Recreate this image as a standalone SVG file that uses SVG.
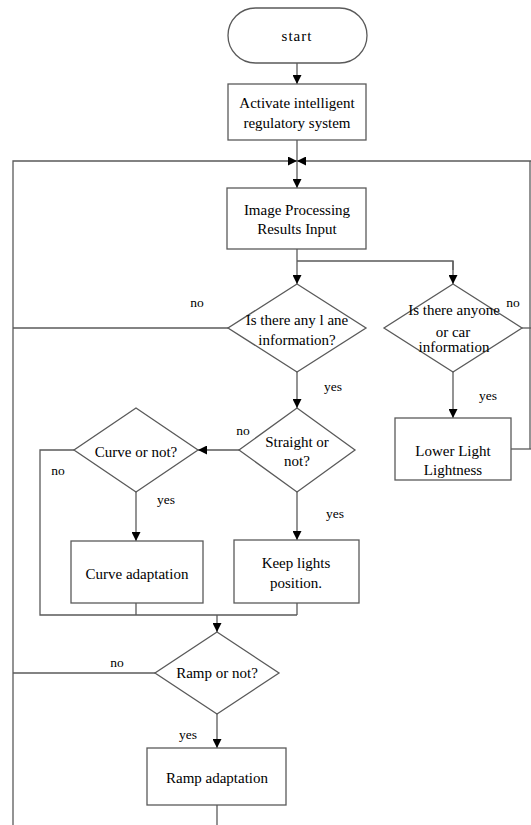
<svg xmlns="http://www.w3.org/2000/svg" width="531" height="825" viewBox="0 0 531 825">
<defs>
<marker id="ah" viewBox="0 0 10 10" refX="10" refY="5" markerWidth="10" markerHeight="9" markerUnits="userSpaceOnUse" orient="auto">
<path d="M0,0 L10,5 L0,10 Z" fill="#000"/>
</marker>
<style>
.s{fill:#fff;stroke:#5a5a5a;stroke-width:1.3}
.c{fill:none;stroke:#5a5a5a;stroke-width:1.3}
.a{fill:none;stroke:#5a5a5a;stroke-width:1.3;marker-end:url(#ah)}
text{font-family:'Liberation Serif','DejaVu Serif',serif;font-size:15px;fill:#000;text-anchor:middle}
.l{font-size:13.5px}
</style>
</defs>
<rect width="531" height="825" fill="#fff"/>
<g id="connectors" font-family="Liberation Serif, DejaVu Serif, serif">
<line class="a" x1="297" y1="63" x2="297" y2="84"/>
<line class="c" x1="297" y1="140" x2="297" y2="161"/>
<polyline class="a" points="13,825 13,161 297,161"/>
<polyline class="a" points="531,161 297,161"/>
<line class="c" x1="530" y1="161" x2="530" y2="449"/>
<line class="a" x1="297" y1="161" x2="297" y2="188"/>
<line class="c" x1="297" y1="249" x2="297" y2="261"/>
<polyline class="c" points="297,261 453,261 453,270"/>
<line class="a" x1="297" y1="261" x2="297" y2="284"/>
<line class="a" x1="453" y1="261" x2="453" y2="284"/>
<line class="c" x1="228" y1="328" x2="13" y2="328"/>
<line class="c" x1="522" y1="328" x2="531" y2="328"/>
<line class="a" x1="453" y1="372" x2="453" y2="418"/>
<line class="c" x1="511" y1="449" x2="531" y2="449"/>
<line class="a" x1="297" y1="372" x2="297" y2="408"/>
<line class="a" x1="239" y1="450" x2="198" y2="450"/>
<polyline class="c" points="74,450 40,450 40,615 297,615"/>
<line class="a" x1="136" y1="492" x2="136" y2="541"/>
<line class="a" x1="297" y1="492" x2="297" y2="540"/>
<line class="c" x1="136" y1="603" x2="136" y2="615"/>
<line class="c" x1="297" y1="603" x2="297" y2="615"/>
<line class="a" x1="217" y1="615" x2="217" y2="632"/>
<line class="c" x1="155" y1="673" x2="13" y2="673"/>
<line class="a" x1="217" y1="714" x2="217" y2="748"/>
<line class="c" x1="217" y1="805" x2="217" y2="825"/>
<text class="l" x="197" y="307">no</text>
<text class="l" x="513" y="307">no</text>
<text class="l" x="333" y="391">yes</text>
<text class="l" x="488" y="400">yes</text>
<text class="l" x="243" y="435">no</text>
<text class="l" x="58" y="475">no</text>
<text class="l" x="166" y="504">yes</text>
<text class="l" x="335" y="518">yes</text>
<text class="l" x="117" y="667">no</text>
<text class="l" x="188" y="739">yes</text>
</g>
<g id="start">
<rect class="s" x="228" y="8" width="139" height="55" rx="27.5"/>
<text x="297" y="41" letter-spacing="1">start</text>
</g>
<g id="activate">
<rect class="s" x="228" y="84" width="138" height="56"/>
<text x="297" y="108">Activate intelligent</text>
<text x="297" y="128">regulatory system</text>
</g>
<g id="image-processing">
<rect class="s" x="227" y="188" width="139" height="61"/>
<text x="297" y="215">Image Processing</text>
<text x="297" y="234">Results Input</text>
</g>
<g id="lane">
<polygon class="s" points="297,284 366,328 297,372 228,328"/>
<text x="297" y="325">Is there any l ane</text>
<text x="297" y="345">information?</text>
</g>
<g id="anyone">
<polygon class="s" points="453,284 522,328 453,372 384,328"/>
<text x="454" y="315">Is there anyone</text>
<text x="453" y="337">or car</text>
<text x="454" y="352">information</text>
</g>
<g id="lower-light">
<rect class="s" x="395" y="418" width="116" height="62"/>
<text x="453" y="456">Lower Light</text>
<text x="453" y="475">Lightness</text>
</g>
<g id="straight">
<polygon class="s" points="297,408 355,450 297,492 239,450"/>
<text x="297" y="447">Straight or</text>
<text x="297" y="466">not?</text>
</g>
<g id="curve">
<polygon class="s" points="136,408 198,450 136,492 74,450"/>
<text x="136" y="457">Curve or not?</text>
</g>
<g id="curve-adaptation">
<rect class="s" x="71" y="541" width="132" height="62"/>
<text x="137" y="579">Curve adaptation</text>
</g>
<g id="keep-lights">
<rect class="s" x="234" y="540" width="125" height="63"/>
<text x="296" y="568">Keep lights</text>
<text x="296" y="588">position.</text>
</g>
<g id="ramp">
<polygon class="s" points="217,632 279,673 217,714 155,673"/>
<text x="217" y="678">Ramp or not?</text>
</g>
<g id="ramp-adaptation">
<rect class="s" x="147" y="748" width="139" height="57"/>
<text x="217" y="783">Ramp adaptation</text>
</g>
</svg>
